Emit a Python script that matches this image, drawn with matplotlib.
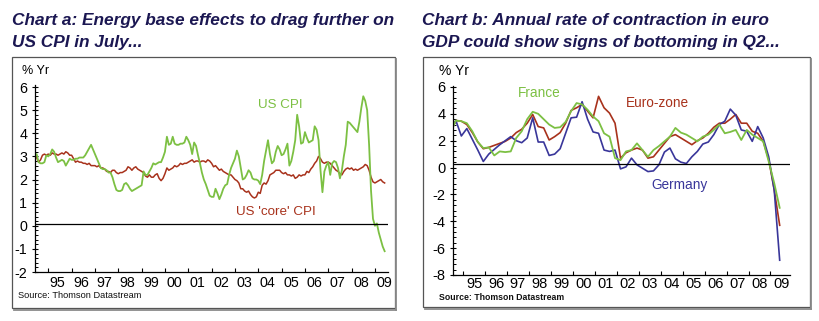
import matplotlib
matplotlib.use("Agg")
import matplotlib.pyplot as plt
import numpy as np
from matplotlib.lines import Line2D
from matplotlib.patches import Rectangle
from matplotlib.ticker import FixedLocator, MultipleLocator, NullFormatter

W, H = 820, 321

# Chart a: US CPI, % y/y, monthly from Jun 1994 to Jun 2009
us_cpi = [
    3.05, 3.1, 2.75, 2.7, 2.7, 2.75, 3.05,
    3.0, 3.1, 3.3, 3.2, 2.95, 2.75, 2.8, 2.85, 2.8, 2.6, 2.75, 2.9,
    2.85, 2.85, 2.9, 2.9, 2.95, 2.95, 2.95, 3.05, 3.2, 3.35, 3.5, 3.3,
    3.1, 2.9, 2.7, 2.5, 2.45, 2.45, 2.4, 2.3, 2.3, 2.1, 1.8, 1.55,
    1.5, 1.5, 1.55, 1.8, 1.85, 1.75, 1.6, 1.5, 1.55, 1.6, 1.65, 1.7,
    1.75, 2.35, 2.2, 2.2, 2.35, 2.5, 2.7, 2.65, 2.7, 2.75, 2.75, 2.95,
    3.2, 3.85, 3.5, 3.55, 3.85, 3.55, 3.5, 3.5, 3.55, 3.55, 3.6, 3.85,
    3.7, 3.5, 3.1, 3.6, 3.45, 3.05, 2.7, 2.3, 2.0, 1.8, 1.55, 1.3,
    1.25, 1.25, 1.6, 1.4, 1.15, 1.35, 1.6, 1.75, 1.8, 2.2, 2.5, 2.7,
    2.9, 3.25, 3.0, 2.5, 2.0, 2.05, 2.2, 2.4, 2.3, 2.05, 2.0, 2.0,
    1.95, 1.8, 2.2, 2.8, 3.25, 3.7, 3.1, 2.7, 2.8, 3.2, 3.45, 3.3,
    3.05, 3.1, 3.3, 3.55, 2.6, 2.8, 3.2, 3.7, 4.8, 4.3, 3.55, 3.6,
    4.05, 3.8, 3.6, 3.65, 3.7, 4.3, 4.15, 3.7, 2.4, 1.45, 2.35, 2.6,
    2.75, 2.2, 2.7, 2.8, 2.75, 2.5, 2.05, 2.4, 3.0, 3.5, 4.5, 4.45,
    4.35, 4.25, 4.15, 4.05, 4.5, 5.1, 5.6, 5.4, 5.0, 3.5, 1.5, 0.3,
    0.0, 0.1, -0.3, -0.6, -0.9, -1.1,
]
us_core_cpi = [
    3.05, 2.95, 2.75, 2.85, 3.05, 3.1, 3.05,
    3.1, 3.05, 3.15, 3.1, 3.1, 3.05, 3.1, 3.15, 3.1, 3.2, 3.15, 3.05,
    3.05, 2.9, 2.75, 2.8, 2.75, 2.75, 2.7, 2.7, 2.65, 2.7, 2.6, 2.6,
    2.6, 2.55, 2.6, 2.5, 2.5, 2.45, 2.35, 2.35, 2.3, 2.4, 2.4, 2.3,
    2.25, 2.3, 2.3, 2.35, 2.4, 2.55, 2.5, 2.4, 2.5, 2.55, 2.45, 2.4,
    2.35, 2.3, 2.15, 2.1, 2.2, 2.1, 2.1, 2.2, 2.25, 2.05, 1.95, 2.05,
    2.25, 2.5, 2.4, 2.45, 2.5, 2.6, 2.55, 2.6, 2.7, 2.65, 2.7, 2.7,
    2.75, 2.8, 2.85, 2.75, 2.8, 2.8, 2.75, 2.8, 2.8, 2.75, 2.85, 2.8,
    2.7, 2.55, 2.6, 2.5, 2.4, 2.45, 2.35, 2.3, 2.25, 2.2, 2.2, 2.1,
    2.0, 1.95, 1.85, 1.6, 1.6, 1.5, 1.45, 1.5, 1.35, 1.25, 1.2, 1.25,
    1.45, 1.4, 1.75, 1.85, 1.8, 1.95, 2.2, 2.25, 2.3, 2.4, 2.4, 2.4,
    2.3, 2.25, 2.3, 2.2, 2.2, 2.15, 2.2, 2.05, 2.1, 2.2, 2.15, 2.2,
    2.2, 2.35, 2.3, 2.45, 2.55, 2.7, 2.8, 3.0, 2.9, 2.75, 2.7, 2.75,
    2.75, 2.7, 2.6, 2.5, 2.4, 2.35, 2.25, 2.2, 2.35, 2.45, 2.5, 2.45,
    2.5, 2.4, 2.45, 2.4, 2.45, 2.5, 2.55, 2.65, 2.6, 2.4, 2.1, 1.9,
    1.85, 1.9, 1.95, 2.0, 1.9, 1.85,
]

# Chart b: real GDP, % y/y, quarterly from Q1 1994 to Q1 2009
euro_zone = [
    2.6, 3.5, 3.45, 3.2, 2.6, 1.9, 1.4, 1.5, 1.65, 1.8,
    1.95, 2.2, 2.6, 2.85, 3.3, 3.95, 3.05, 2.95, 2.05, 2.3,
    2.6, 3.3, 4.25, 4.45, 4.7, 4.2, 3.7, 5.3, 4.45, 4.05,
    3.3, 0.7, 1.1, 1.3, 1.45, 1.3, 0.7, 0.8, 1.3, 1.8,
    2.3, 2.45, 2.2, 1.95, 1.7, 2.0, 2.2, 2.55, 3.0, 3.3,
    3.3, 3.6, 3.95, 3.3, 3.3, 2.7, 2.55, 1.95, 0.6, -1.65,
    -4.3,
]
france = [
    2.6, 3.5, 3.45, 3.3, 2.7, 1.9, 1.45, 1.5, 0.9, 1.2,
    1.15, 1.2, 2.2, 2.7, 3.6, 4.15, 4.0, 3.6, 3.2, 2.95,
    3.0, 3.4, 4.2, 4.8, 4.7, 4.3, 3.8, 3.45, 2.55, 2.3,
    0.7, 0.55, 1.2, 1.3, 1.8, 1.3, 0.8, 1.3, 1.6, 1.95,
    2.3, 2.95, 2.6, 2.45, 2.2, 1.95, 2.3, 2.45, 2.8, 3.2,
    2.55, 2.65, 2.8, 2.05, 2.8, 2.45, 2.2, 1.95, 0.45, -1.15,
    -3.0,
]
germany = [
    2.6, 3.5, 2.35, 2.9, 2.1, 1.3, 0.45, 1.0, 1.35, 1.7,
    2.0, 2.3, 2.0, 1.85, 2.2, 3.7, 1.9, 1.9, 0.9, 1.0,
    1.4, 2.55, 3.7, 3.75, 4.9, 3.6, 2.65, 2.55, 1.3, 1.2,
    1.3, -0.1, 0.05, 0.7, 0.2, -0.05, -0.3, -0.25, 0.2, 1.15,
    1.45, 0.65, 0.4, 0.3, 0.8, 1.2, 1.75, 1.9, 2.45, 3.2,
    3.45, 4.35, 3.9, 2.8, 2.7, 1.95, 3.05, 2.2, 0.8, -1.65,
    -6.9,
]

years = list(range(1995, 2010))
year_labels = [f"{y % 100:02d}" for y in years]

GREEN = "#7cc043"
RED = "#a8321c"
BLUE = "#39369a"
NAVY = "#1b1752"

plt.rcParams["font.family"] = ["Liberation Sans", "DejaVu Sans"]
plt.rcParams["axes.unicode_minus"] = False

fig = plt.figure(figsize=(W / 100, H / 100), dpi=100)


def px_axes(left, top, right, bottom):
    return fig.add_axes([left / W, 1 - bottom / H, (right - left) / W, (bottom - top) / H])


def fx(x):
    return x / W


def fy(y):
    return 1 - y / H


def frame(left, top, right, bottom):
    # thin border with a darker drop edge on the right and bottom
    fig.add_artist(Rectangle((fx(left), fy(bottom)), fx(right - left), (bottom - top) / H,
                             transform=fig.transFigure, fill=False, lw=0.9, ec="#555555"))
    fig.add_artist(Line2D([fx(right + 1.5), fx(right + 1.5)], [fy(bottom + 1.5), fy(top + 2)],
                          transform=fig.transFigure, lw=1.3, color="#8a8a8a"))
    fig.add_artist(Line2D([fx(left + 2), fx(right + 1.5)], [fy(bottom + 1.5), fy(bottom + 1.5)],
                          transform=fig.transFigure, lw=1.3, color="#8a8a8a"))


def style_axes(ax, label_offset, minor_step, major_step, fs, xpad):
    for side in ("top", "right"):
        ax.spines[side].set_visible(False)
    for side in ("left", "bottom"):
        ax.spines[side].set_linewidth(0.9)
    ax.xaxis.set_major_locator(FixedLocator(years))
    ax.xaxis.set_major_formatter(NullFormatter())
    ax.xaxis.set_minor_locator(FixedLocator([y + label_offset for y in years]))
    ax.set_xticklabels(year_labels, minor=True)
    ax.tick_params(axis="x", which="major", direction="in", length=3, width=0.8)
    ax.tick_params(axis="x", which="minor", length=0, pad=xpad, labelsize=fs)
    ax.yaxis.set_major_locator(MultipleLocator(major_step))
    ax.yaxis.set_minor_locator(MultipleLocator(minor_step))
    ax.tick_params(axis="y", which="major", direction="inout", length=5, width=0.8,
                   pad=3, labelsize=fs)
    ax.tick_params(axis="y", which="minor", direction="in", length=2.5, width=0.7)
    ax.patch.set_alpha(0)


# ---- Chart a ----
frame(12, 57, 395, 308)
fig.text(fx(12), fy(25), "Chart a: Energy base effects to drag further on",
         fontsize=12.4, fontweight="bold", fontstyle="italic", color=NAVY, va="baseline")
fig.text(fx(12), fy(46.5), "US CPI in July...",
         fontsize=12.4, fontweight="bold", fontstyle="italic", color=NAVY, va="baseline")

ax_a = px_axes(35, 84.7, 388, 272)
t_month = 1994 + 5 / 12 + np.arange(len(us_cpi)) / 12
ax_a.plot(t_month, us_core_cpi, color=RED, lw=1.1)
ax_a.plot(t_month, us_cpi, color=GREEN, lw=1.3)
ax_a.axhline(0.08, color="black", lw=0.9)
ax_a.set_xlim(1994.43, 2009.56)
ax_a.set_ylim(-2, 6.1)
style_axes(ax_a, 0.4, 0.2, 1, 10.3, 3)
fig.text(fx(280), fy(105), "US CPI", color=GREEN, fontsize=9.6, ha="center", va="center")
fig.text(fx(275.5), fy(212), "US 'core' CPI", color=RED, fontsize=9.6, ha="center", va="center")
fig.text(fx(22), fy(70.5), "% Yr", fontsize=9, va="center")
fig.text(fx(18), fy(296), "Source: Thomson Datastream", fontsize=6.7, va="center", color="#111111")

# ---- Chart b ----
frame(423, 57, 810, 307)
fig.text(fx(422), fy(25), "Chart b: Annual rate of contraction in euro",
         fontsize=12.4, fontweight="bold", fontstyle="italic", color=NAVY, va="baseline")
fig.text(fx(422), fy(46.5), "GDP could show signs of bottoming in Q2...",
         fontsize=12.4, fontweight="bold", fontstyle="italic", color=NAVY, va="baseline")

ax_b = px_axes(453, 85.6, 790, 275)
t_quarter = 1994.42 + 0.25 * np.arange(len(germany))
ax_b.plot(t_quarter, euro_zone, color=RED, lw=1.2)
ax_b.plot(t_quarter, germany, color=BLUE, lw=1.2)
ax_b.plot(t_quarter, france, color=GREEN, lw=1.3)
ax_b.axhline(0.25, color="black", lw=0.9)
ax_b.set_xlim(1994.54, 2009.89)
ax_b.set_ylim(-8, 6.1)
style_axes(ax_b, 0.5, 0.4, 2, 10.5, 1.5)
fig.text(fx(539), fy(93), "France", color=GREEN, fontsize=9.8, ha="center", va="center")
fig.text(fx(657), fy(103), "Euro-zone", color=RED, fontsize=9.8, ha="center", va="center")
fig.text(fx(679.5), fy(185), "Germany", color=BLUE, fontsize=9.8, ha="center", va="center")
fig.text(fx(439), fy(71), "% Yr", fontsize=10, va="center")
fig.text(fx(439), fy(297.5), "Source: Thomson Datastream", fontsize=6.3, fontweight="bold",
         va="center", color="#111111")

fig.savefig("out.png", dpi=100)
plt.close(fig)
